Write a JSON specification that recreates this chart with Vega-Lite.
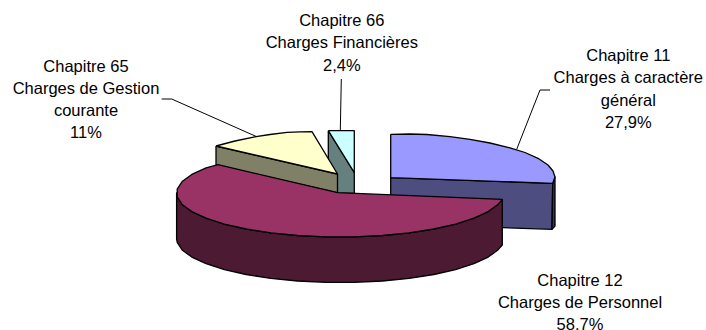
{
  "$schema": "https://vega.github.io/schema/vega-lite/v6.json",
  "width": 706,
  "height": 330,
  "padding": 0,
  "autosize": "none",
  "background": "white",
  "config": {"view": {"stroke": null}},
  "datasets": {
    "outlines": [
      {"part":"Chapitre 11 tranche","x":390.7,"y":177.7},{"part":"Chapitre 11 tranche","x":552.7,"y":183.3},{"part":"Chapitre 11 tranche","x":552,"y":229.3},{"part":"Chapitre 11 tranche","x":390.7,"y":224},{"part":"Chapitre 11 tranche","x":390.7,"y":177.7},
      {"part":"Chapitre 11 bord","x":552.7,"y":183.3},{"part":"Chapitre 11 bord","x":555,"y":177},{"part":"Chapitre 11 bord","x":555,"y":226},{"part":"Chapitre 11 bord","x":552,"y":229.3},{"part":"Chapitre 11 bord","x":552.7,"y":183.3},
      {"part":"Chapitre 11 dessus","x":390.7,"y":134.3},{"part":"Chapitre 11 dessus","x":410,"y":134},{"part":"Chapitre 11 dessus","x":427,"y":134.5},{"part":"Chapitre 11 dessus","x":450,"y":136.7},{"part":"Chapitre 11 dessus","x":470,"y":139.3},{"part":"Chapitre 11 dessus","x":490,"y":143},{"part":"Chapitre 11 dessus","x":510,"y":147.8},{"part":"Chapitre 11 dessus","x":525,"y":152.5},{"part":"Chapitre 11 dessus","x":538,"y":158.3},{"part":"Chapitre 11 dessus","x":548,"y":165},{"part":"Chapitre 11 dessus","x":553,"y":171},{"part":"Chapitre 11 dessus","x":555,"y":177},{"part":"Chapitre 11 dessus","x":552.7,"y":183.3},{"part":"Chapitre 11 dessus","x":390.7,"y":177.7},{"part":"Chapitre 11 dessus","x":390.7,"y":134.3},
      {"part":"Chapitre 66 tranche","x":328.3,"y":130.7},{"part":"Chapitre 66 tranche","x":354.3,"y":172.7},{"part":"Chapitre 66 tranche","x":354.3,"y":193.5},{"part":"Chapitre 66 tranche","x":328.3,"y":193.5},{"part":"Chapitre 66 tranche","x":328.3,"y":130.7},
      {"part":"Chapitre 66 dessus","x":328.3,"y":130.7},{"part":"Chapitre 66 dessus","x":354.3,"y":130.7},{"part":"Chapitre 66 dessus","x":354.3,"y":172.7},{"part":"Chapitre 66 dessus","x":328.3,"y":130.7},
      {"part":"Chapitre 65 tranche","x":216,"y":146},{"part":"Chapitre 65 tranche","x":337.5,"y":174},{"part":"Chapitre 65 tranche","x":337.5,"y":193},{"part":"Chapitre 65 tranche","x":216,"y":165},{"part":"Chapitre 65 tranche","x":216,"y":146},
      {"part":"Chapitre 65 dessus","x":216,"y":146},{"part":"Chapitre 65 dessus","x":235,"y":141},{"part":"Chapitre 65 dessus","x":256,"y":136.7},{"part":"Chapitre 65 dessus","x":270,"y":134.5},{"part":"Chapitre 65 dessus","x":287,"y":132.3},{"part":"Chapitre 65 dessus","x":300,"y":131.8},{"part":"Chapitre 65 dessus","x":312,"y":131.7},{"part":"Chapitre 65 dessus","x":337.5,"y":174},{"part":"Chapitre 65 dessus","x":216,"y":146},
      {"part":"Chapitre 12 tranche","x":502.3,"y":199.3},{"part":"Chapitre 12 tranche","x":497.9,"y":204.4},{"part":"Chapitre 12 tranche","x":488.2,"y":211.6},{"part":"Chapitre 12 tranche","x":473.9,"y":218.2},{"part":"Chapitre 12 tranche","x":455.6,"y":224.1},{"part":"Chapitre 12 tranche","x":433.8,"y":229},{"part":"Chapitre 12 tranche","x":409.1,"y":232.9},{"part":"Chapitre 12 tranche","x":382.3,"y":235.5},{"part":"Chapitre 12 tranche","x":354.2,"y":236.8},{"part":"Chapitre 12 tranche","x":325.8,"y":236.8},{"part":"Chapitre 12 tranche","x":297.7,"y":235.5},{"part":"Chapitre 12 tranche","x":270.9,"y":232.9},{"part":"Chapitre 12 tranche","x":246.2,"y":229},{"part":"Chapitre 12 tranche","x":224.4,"y":224.1},{"part":"Chapitre 12 tranche","x":206.1,"y":218.2},{"part":"Chapitre 12 tranche","x":191.8,"y":211.6},{"part":"Chapitre 12 tranche","x":182.1,"y":204.4},{"part":"Chapitre 12 tranche","x":177.2,"y":196.8},{"part":"Chapitre 12 tranche","x":176.6,"y":193},
      {"part":"Chapitre 12 tranche","x":176.6,"y":239},{"part":"Chapitre 12 tranche","x":177.2,"y":242.3},{"part":"Chapitre 12 tranche","x":182.1,"y":249.9},{"part":"Chapitre 12 tranche","x":191.8,"y":257.1},{"part":"Chapitre 12 tranche","x":206.1,"y":263.7},{"part":"Chapitre 12 tranche","x":224.4,"y":269.6},{"part":"Chapitre 12 tranche","x":246.2,"y":274.5},{"part":"Chapitre 12 tranche","x":270.9,"y":278.4},{"part":"Chapitre 12 tranche","x":297.7,"y":281},{"part":"Chapitre 12 tranche","x":325.8,"y":282.3},{"part":"Chapitre 12 tranche","x":354.2,"y":282.3},{"part":"Chapitre 12 tranche","x":382.3,"y":281},{"part":"Chapitre 12 tranche","x":409.1,"y":278.4},{"part":"Chapitre 12 tranche","x":433.8,"y":274.5},{"part":"Chapitre 12 tranche","x":455.6,"y":269.6},{"part":"Chapitre 12 tranche","x":473.9,"y":263.7},{"part":"Chapitre 12 tranche","x":488.2,"y":257.1},{"part":"Chapitre 12 tranche","x":497.9,"y":249.9},{"part":"Chapitre 12 tranche","x":502.3,"y":245},{"part":"Chapitre 12 tranche","x":502.3,"y":199.3},
      {"part":"Chapitre 12 dessus","x":337.7,"y":192.7},{"part":"Chapitre 12 dessus","x":502.3,"y":199.3},{"part":"Chapitre 12 dessus","x":497.9,"y":204.4},{"part":"Chapitre 12 dessus","x":488.2,"y":211.6},{"part":"Chapitre 12 dessus","x":473.9,"y":218.2},{"part":"Chapitre 12 dessus","x":455.6,"y":224.1},{"part":"Chapitre 12 dessus","x":433.8,"y":229},{"part":"Chapitre 12 dessus","x":409.1,"y":232.9},{"part":"Chapitre 12 dessus","x":382.3,"y":235.5},{"part":"Chapitre 12 dessus","x":354.2,"y":236.8},{"part":"Chapitre 12 dessus","x":325.8,"y":236.8},{"part":"Chapitre 12 dessus","x":297.7,"y":235.5},{"part":"Chapitre 12 dessus","x":270.9,"y":232.9},{"part":"Chapitre 12 dessus","x":246.2,"y":229},{"part":"Chapitre 12 dessus","x":224.4,"y":224.1},{"part":"Chapitre 12 dessus","x":206.1,"y":218.2},{"part":"Chapitre 12 dessus","x":191.8,"y":211.6},{"part":"Chapitre 12 dessus","x":182.1,"y":204.4},{"part":"Chapitre 12 dessus","x":177.2,"y":196.8},{"part":"Chapitre 12 dessus","x":177.2,"y":189.2},{"part":"Chapitre 12 dessus","x":182.1,"y":181.6},{"part":"Chapitre 12 dessus","x":191.8,"y":174.4},{"part":"Chapitre 12 dessus","x":206.1,"y":167.8},{"part":"Chapitre 12 dessus","x":218,"y":164.7},{"part":"Chapitre 12 dessus","x":337.7,"y":192.7}
    ],
    "leaders": [
      {"label":"Chapitre 11","x":550,"y":90},{"label":"Chapitre 11","x":540,"y":90},{"label":"Chapitre 11","x":516.7,"y":149.3},
      {"label":"Chapitre 65","x":161.7,"y":99},{"label":"Chapitre 65","x":171.7,"y":99},{"label":"Chapitre 65","x":256.7,"y":136.7},
      {"label":"Chapitre 66","x":341.3,"y":79},{"label":"Chapitre 66","x":340.3,"y":130.7}
    ],
    "labels": [
      {"text":"Chapitre 66\nCharges Financières\n2,4%","x":341.8,"y":21},
      {"text":"Chapitre 11\nCharges à caractère\ngénéral\n27,9%","x":628.3,"y":56},
      {"text":"Chapitre 65\nCharges de Gestion\ncourante\n11%","x":86,"y":66.5},
      {"text":"Chapitre 12\nCharges de Personnel\n58.7%","x":580,"y":280.5}
    ]
  },
  "encoding": {
    "x": {"field":"x","type":"quantitative","axis":null,"scale":{"domain":[0,706],"nice":false,"zero":false}},
    "y": {"field":"y","type":"quantitative","axis":null,"scale":{"domain":[330,0],"nice":false,"zero":false}}
  },
  "layer": [
    {
      "data": {"name":"outlines"},
      "mark": {"type":"line","stroke":"#000000","strokeWidth":1.3,"strokeJoin":"round","clip":false},
      "encoding": {
        "order": {"value": null},
        "fill": {
          "field":"part","type":"nominal","legend":null,
          "scale":{
            "domain":["Chapitre 11 tranche","Chapitre 11 bord","Chapitre 11 dessus","Chapitre 66 tranche","Chapitre 66 dessus","Chapitre 65 tranche","Chapitre 65 dessus","Chapitre 12 tranche","Chapitre 12 dessus"],
            "range":["#4d4d80","#333366","#9999ff","#668080","#ccffff","#808066","#ffffcc","#4d1a33","#993366"]
          }
        }
      }
    },
    {
      "data": {"name":"leaders"},
      "mark": {"type":"line","stroke":"#000000","strokeWidth":1},
      "encoding": {"detail":{"field":"label"},"order":{"value":null}}
    },
    {
      "data": {"name":"labels"},
      "mark": {"type":"text","font":"Liberation Sans","fontSize":16.5,"lineBreak":"\n","lineHeight":22.3,"align":"center","baseline":"middle","fill":"#000000"},
      "encoding": {"text":{"field":"text"}}
    }
  ]
}
